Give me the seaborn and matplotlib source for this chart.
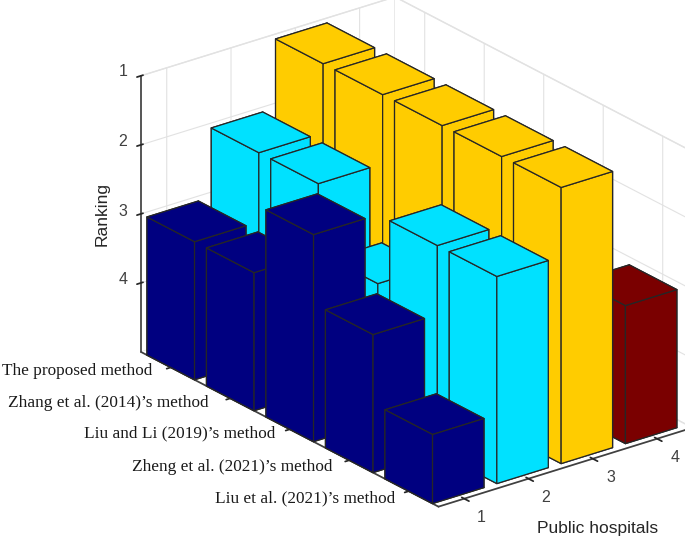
import numpy as np
import seaborn as sns
import matplotlib.pyplot as plt

# ------------ 1. Data ----------------
methods = ["The proposed method", "Zhang et al. (2014)\u2019s method", "Liu and Li (2019)\u2019s method",
           "Zheng et al. (2021)\u2019s method", "Liu et al. (2021)\u2019s method"]
hospitals = [1, 2, 3, 4]
rank_h1 = [3, 3, 2, 3, 4]
rank_h2 = [2, 2, 3, 2, 2]
rank_h3 = [1, 1, 1, 1, 1]
rank_h4 = [4, 4, 4, 4, 3]  # first four are hidden behind the yellow bars
ranks = [rank_h1, rank_h2, rank_h3, rank_h4]
rank_ticks = [1, 2, 3, 4]
colors = ["#000080", "#00E1FF", "#FFCC00", "#7A0000"]

# tick label anchors in pixels, mplot3d's own offsets push them too far down
method_right_px = [152, 209, 275, 332, 395]
method_mid_px = [371, 403, 433, 467, 498]
hospital_px = [(481, 517), (546, 497), (611, 477), (675, 457)]
rank_px = [(123, 72), (123, 141), (123, 211), (123, 280)]

# ------------ 2. Figure ----------------
sns.set_theme(style="white", palette=colors)
plt.rcParams["font.family"] = ["Liberation Sans", "DejaVu Sans"]

fig = plt.figure(figsize=(6.85, 5.4), dpi=100)
ax = fig.add_axes([0.1308, -0.0722, 0.93, 1.18], projection="3d")
ax.set_proj_type("ortho")
ax.view_init(elev=23.7, azim=-37.7)
ax.computed_zorder = False
ax.set_xlim(0.5, 5.5)
ax.set_ylim(0.6, 4.55)
ax.set_zlim(5, 1)
ax.set_box_aspect((486.5, 321.0, 301.6))

# ------------ 3. Bars, back to front ----------------
width = 0.8
order = 1
for j in reversed(range(len(hospitals))):
    for i in range(len(methods)):
        r = ranks[j][i]
        ax.bar3d(i + 1 - width / 2, hospitals[j] - width / 2, r, width, width, 5 - r,
                 color=colors[j], edgecolor="#262626", linewidth=0.9, shade=False, zorder=order)
        order += 1

# ------------ 4. Axes ----------------
ax.set_xticks(range(1, len(methods) + 1))
ax.set_xticklabels([""] * len(methods))
ax.set_yticks(hospitals)
ax.set_yticklabels([""] * len(hospitals))
ax.set_zticks(rank_ticks)
ax.set_zticklabels([""] * len(rank_ticks))
ax.zaxis.set_ticks_position("lower")

for axis in (ax.xaxis, ax.yaxis, ax.zaxis):
    axis.set_pane_color((1, 1, 1, 1))
    axis.pane.set_edgecolor("#e2e2e2")
    axis.line.set_color("#404040")
    axis._axinfo["grid"].update(color="#e2e2e2", linewidth=0.8)
    axis._axinfo["tick"]["color"] = "#404040"
ax.grid(True)

# ------------ 5. Texts ----------------
for h, (px, py) in zip(hospitals, hospital_px):
    fig.text(px / 685, 1 - py / 540, str(h), fontsize=11.5, color="#404040", ha="center", va="center")
for r, (px, py) in zip(rank_ticks, rank_px):
    fig.text(px / 685, 1 - py / 540, str(r), fontsize=11.5, color="#404040", ha="center", va="center")
for name, px, py in zip(methods, method_right_px, method_mid_px):
    fig.text(px / 685, 1 - py / 540, name, family="Liberation Serif", fontsize=12.4, color="#1a1a1a",
             ha="right", va="center")

fig.text(102 / 685, 1 - 214 / 540, "Ranking", rotation=90, fontsize=12.5, color="#262626", ha="center", va="center")
fig.text(597.5 / 685, 1 - 529 / 540, "Public hospitals", fontsize=12.5, color="#262626", ha="center", va="center")

fig.savefig("out.png", dpi=100)
